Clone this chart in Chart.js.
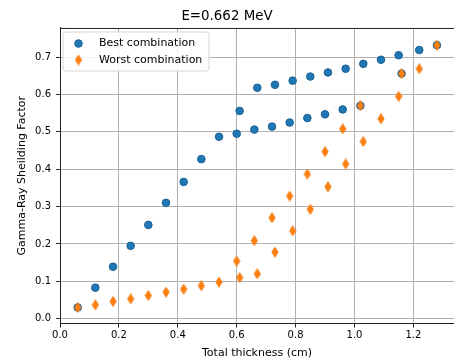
<!DOCTYPE html>
<html>
<head>
<meta charset="utf-8">
<script src="https://cdn.jsdelivr.net/npm/chart.js@4.4.1/dist/chart.umd.min.js"></script>
<style>
html, body { margin: 0; padding: 0; background: #fff; }
#wrap { width: 454px; height: 361px; }
</style>
</head>
<body>
<div id="wrap"><canvas id="chart" width="454" height="361"></canvas></div>
<script>
// values
const bestX = [0.06, 0.12, 0.18, 0.24, 0.30, 0.36, 0.42, 0.48, 0.54,
               0.60, 0.66, 0.72, 0.78, 0.84, 0.90, 0.96, 1.02, 1.16, 1.28,
               0.61, 0.67, 0.73, 0.79, 0.85, 0.91, 0.97, 1.03, 1.09, 1.15, 1.22];
const bestY = [0.030, 0.083, 0.139, 0.195, 0.251, 0.310, 0.366, 0.427, 0.487,
               0.495, 0.506, 0.514, 0.525, 0.537, 0.547, 0.560, 0.570, 0.656, 0.732,
               0.556, 0.618, 0.626, 0.637, 0.648, 0.659, 0.669, 0.682, 0.693, 0.705, 0.719];

const worstX = [0.06, 0.12, 0.18, 0.24, 0.30, 0.36, 0.42, 0.48, 0.54,
                0.60, 0.61, 0.66, 0.67, 0.72, 0.73, 0.78, 0.79, 0.84, 0.85,
                0.90, 0.91, 0.96, 0.97, 1.02, 1.03, 1.09, 1.15, 1.16, 1.22, 1.28];
const worstY = [0.030, 0.037, 0.046, 0.053, 0.062, 0.071, 0.079, 0.088, 0.098,
                0.154, 0.110, 0.209, 0.120, 0.270, 0.178, 0.328, 0.235, 0.387, 0.293,
                0.447, 0.353, 0.508, 0.414, 0.570, 0.474, 0.535, 0.595, 0.656, 0.669, 0.732];

const xTicks = [0.0, 0.2, 0.4, 0.6, 0.8, 1.0, 1.2];
const yTicks = [0.0, 0.1, 0.2, 0.3, 0.4, 0.5, 0.6, 0.7];

const seriesNames = ['Best combination', 'Worst combination'];
const FONT = 'DejaVu Sans';
const BLUE = '#1f77b4';
const ORANGE = '#ff7f0e';

// matplotlib style thin diamond marker
function makeDiamond(w, h) {
    const c = document.createElement('canvas');
    c.width = w; c.height = h;
    const g = c.getContext('2d');
    g.beginPath();
    g.moveTo(w / 2, 0.5);
    g.lineTo(w - 0.8, h / 2);
    g.lineTo(w / 2, h - 0.5);
    g.lineTo(0.8, h / 2);
    g.closePath();
    g.fillStyle = ORANGE;
    g.fill();
    g.strokeStyle = '#f07a10';
    g.lineWidth = 0.8;
    g.stroke();
    return c;
}
const diamond = makeDiamond(8, 11);

// top spine
const topSpine = {
    id: 'topSpine',
    afterDraw(chart) {
        const { ctx, chartArea } = chart;
        ctx.save();
        ctx.strokeStyle = '#222';
        ctx.lineWidth = 1;
        ctx.beginPath();
        ctx.moveTo(chartArea.left, chartArea.top + 0.5);
        ctx.lineTo(chartArea.right, chartArea.top + 0.5);
        ctx.stroke();
        ctx.restore();
    }
};

// legend inside the axes, upper left like matplotlib
const innerLegend = {
    id: 'innerLegend',
    afterDraw(chart) {
        const ctx = chart.ctx;
        const x = 63, y = 32, w = 146, h = 39, r = 3;
        ctx.save();
        ctx.beginPath();
        ctx.moveTo(x + r, y);
        ctx.arcTo(x + w, y, x + w, y + h, r);
        ctx.arcTo(x + w, y + h, x, y + h, r);
        ctx.arcTo(x, y + h, x, y, r);
        ctx.arcTo(x, y, x + w, y, r);
        ctx.closePath();
        ctx.fillStyle = 'rgba(255,255,255,0.85)';
        ctx.fill();
        ctx.strokeStyle = 'rgba(204,204,204,0.8)';
        ctx.lineWidth = 1;
        ctx.stroke();

        ctx.beginPath();
        ctx.arc(78.5, 43.5, 3.8, 0, Math.PI * 2);
        ctx.fillStyle = BLUE;
        ctx.fill();
        ctx.strokeStyle = '#195f95';
        ctx.stroke();
        ctx.drawImage(diamond, 78.5 - diamond.width / 2, 60 - diamond.height / 2);

        ctx.fillStyle = '#000';
        ctx.font = '11px "' + FONT + '"';
        ctx.textBaseline = 'middle';
        ctx.textAlign = 'left';
        ctx.fillText(seriesNames[0], 99, 43.5);
        ctx.fillText(seriesNames[1], 99, 60);
        ctx.restore();
    }
};

const ctx = document.getElementById('chart').getContext('2d');
new Chart(ctx, {
    type: 'scatter',
    data: {
        datasets: [{
            label: seriesNames[0],
            data: bestX.map((x, i) => ({ x: x, y: bestY[i] })),
            pointStyle: 'circle',
            pointRadius: 3.8,
            pointBackgroundColor: BLUE,
            pointBorderColor: '#195f95',
            pointBorderWidth: 1,
            order: 2
        }, {
            label: seriesNames[1],
            data: worstX.map((x, i) => ({ x: x, y: worstY[i] })),
            pointStyle: diamond,
            pointRadius: 5,
            order: 1
        }]
    },
    options: {
        responsive: false,
        animation: false,
        events: [],
        layout: { padding: 0, autoPadding: false },
        plugins: {
            legend: { display: false },
            tooltip: { enabled: false },
            title: {
                display: true,
                text: 'E=0.662 MeV',
                color: '#000',
                font: { family: FONT, size: 13.4, weight: 'normal' },
                padding: { top: 8, bottom: 3.9 }
            }
        },
        scales: {
            x: {
                type: 'linear',
                min: 0,
                max: 1.338,
                z: 1,
                afterBuildTicks: s => { s.ticks = xTicks.map(v => ({ value: v })); },
                afterFit: s => { s.height = 37.5; s.paddingLeft = 0; s.paddingRight = 0; },
                ticks: {
                    callback: v => v.toFixed(1),
                    color: '#000',
                    font: { family: FONT, size: 10 },
                    padding: 2,
                    maxRotation: 0,
                    autoSkip: false
                },
                grid: { color: '#b0b0b0', lineWidth: 1, tickLength: 4, tickColor: '#222' },
                border: { color: '#222', width: 1 },
                title: {
                    display: true,
                    text: 'Total thickness (cm)',
                    color: '#000',
                    font: { family: FONT, size: 11 },
                    padding: { top: 0, bottom: 1.4 }
                }
            },
            y: {
                type: 'linear',
                min: -0.0129,
                max: 0.778,
                z: 1,
                afterBuildTicks: s => { s.ticks = yTicks.map(v => ({ value: v })); },
                afterFit: s => { s.width = 60; s.paddingTop = 0; s.paddingBottom = 0; },
                ticks: {
                    callback: v => v.toFixed(1),
                    color: '#000',
                    font: { family: FONT, size: 10 },
                    padding: 5,
                    autoSkip: false
                },
                grid: { color: '#b0b0b0', lineWidth: 1, tickLength: 4, tickColor: '#222' },
                border: { color: '#222', width: 1 },
                title: {
                    display: true,
                    text: 'Gamma-Ray Sheilding Factor',
                    color: '#000',
                    font: { family: FONT, size: 11 },
                    padding: { top: 15.4, bottom: 0 }
                }
            }
        }
    },
    plugins: [topSpine, innerLegend]
});
</script>
</body>
</html>
